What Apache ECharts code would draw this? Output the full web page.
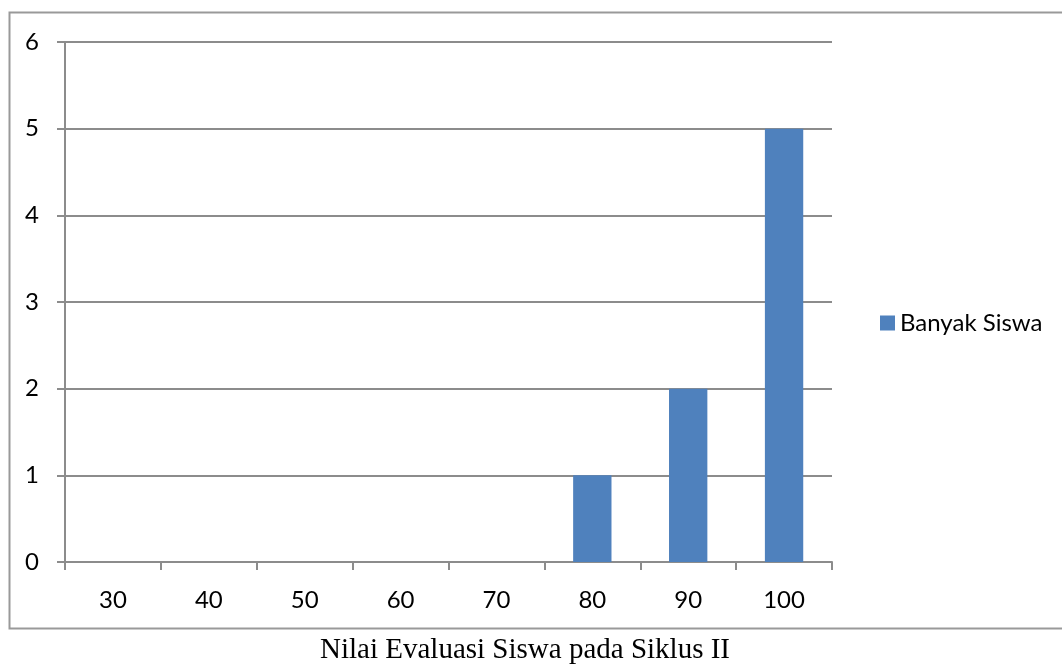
<!DOCTYPE html>
<html>
<head>
<meta charset="utf-8">
<script src="https://cdn.jsdelivr.net/npm/echarts@6/dist/echarts.min.js"></script>
<style>
  html, body { margin: 0; padding: 0; background: #ffffff; }
  #chart { width: 1062px; height: 665px; }
</style>
</head>
<body>
<div id="chart"></div>
<script>
// Score categories on the x axis
const categories = ['30', '40', '50', '60', '70', '80', '90', '100'];
// Number of students per score
const banyakSiswa = [0, 0, 0, 0, 0, 1, 2, 5];
const seriesName = 'Banyak Siswa';
const captionText = 'Nilai Evaluasi Siswa pada Siklus II';

const chart = echarts.init(document.getElementById('chart'), null, { renderer: 'canvas' });

const axisGrey = '#8c8c8c';
const labelFont = 'Lato, "Noto Sans", sans-serif';

chart.setOption({
  backgroundColor: '#ffffff',
  animation: false,
  graphic: [
    {
      // frame around the chart area (its right side runs past the page edge)
      type: 'rect',
      shape: { x: 9.5, y: 12.5, width: 1070, height: 616 },
      style: { fill: 'none', stroke: '#999999', lineWidth: 2 },
      z: 0
    },
    {
      type: 'text',
      x: 525,
      y: 650,
      style: {
        text: captionText,
        font: '29px "Liberation Serif", "Times New Roman", serif',
        fill: '#000000',
        align: 'center',
        verticalAlign: 'middle'
      }
    }
  ],
  grid: { left: 65, right: 230, top: 42, bottom: 103, containLabel: false },
  legend: {
    data: [seriesName],
    orient: 'vertical',
    left: 875,
    top: 306,
    icon: 'rect',
    itemWidth: 15,
    itemHeight: 15,
    textStyle: { fontFamily: labelFont, fontSize: 24, color: '#000000' }
  },
  xAxis: {
    type: 'category',
    data: categories,
    boundaryGap: true,
    axisLine: { lineStyle: { color: axisGrey, width: 2 } },
    axisTick: { show: true, alignWithLabel: false, length: 8, lineStyle: { color: axisGrey, width: 2 } },
    axisLabel: { fontFamily: labelFont, fontSize: 24, color: '#000000', margin: 26 },
    splitLine: { show: false }
  },
  yAxis: {
    type: 'value',
    min: 0,
    max: 6,
    interval: 1,
    axisLine: { show: true, lineStyle: { color: axisGrey, width: 2 } },
    axisTick: { show: true, length: 8, lineStyle: { color: axisGrey, width: 2 } },
    axisLabel: { fontFamily: labelFont, fontSize: 24, color: '#000000', margin: 26 },
    splitLine: { show: true, lineStyle: { color: axisGrey, width: 2 } }
  },
  series: [
    {
      name: seriesName,
      type: 'bar',
      data: banyakSiswa,
      barWidth: '40%',
      itemStyle: { color: '#4f81bd' }
    }
  ]
});
</script>
</body>
</html>
